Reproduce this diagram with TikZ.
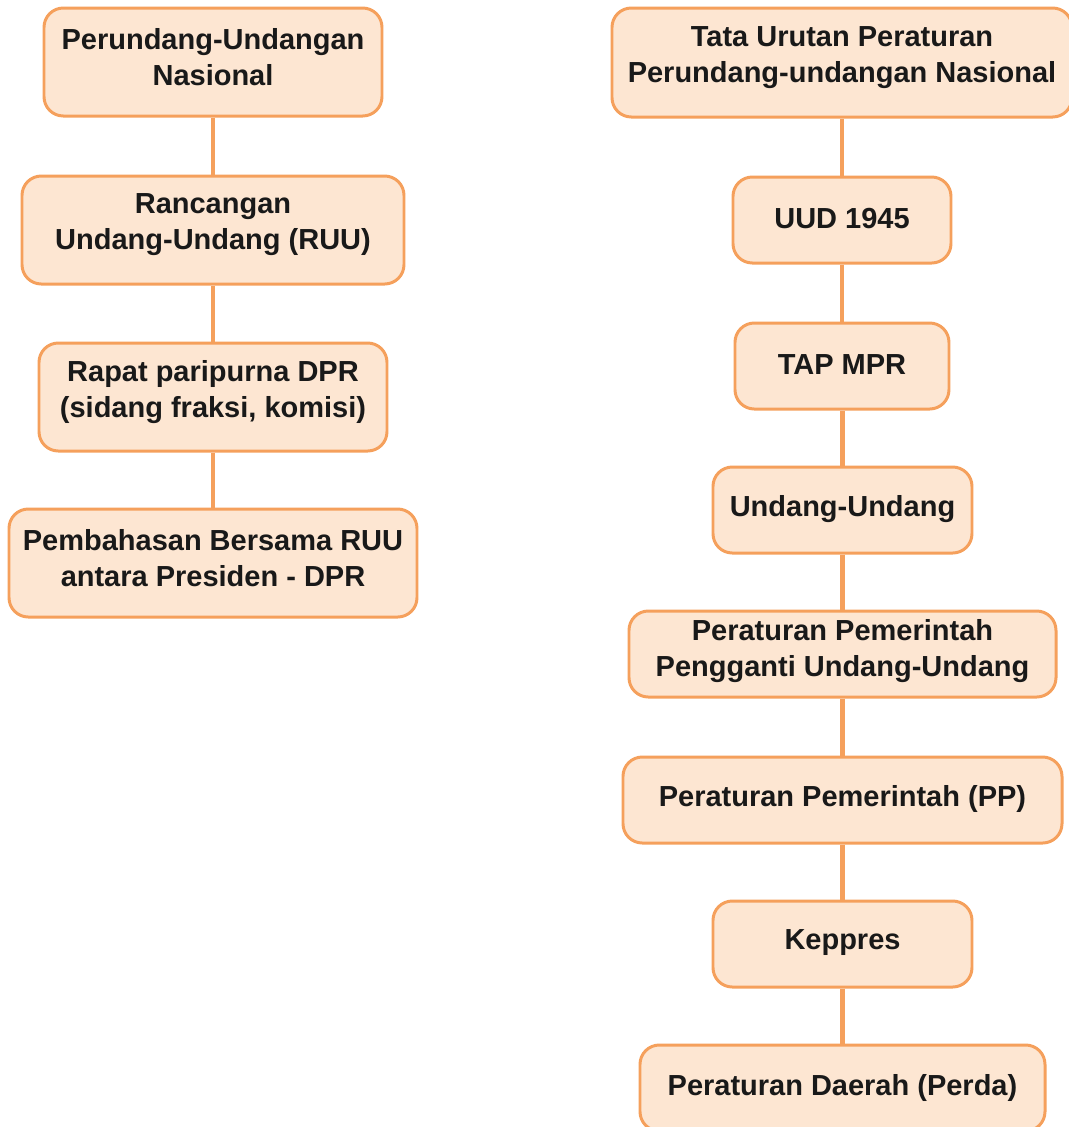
\documentclass[tikz,border=0pt]{standalone}
\usepackage{fontspec}
\setmainfont{Liberation Sans}
\definecolor{boxfill}{HTML}{FDE6D2}
\definecolor{boxline}{HTML}{F5A05C}
\begin{document}
\begin{tikzpicture}[x=0.02cm,y=-0.02cm,
  box/.style={draw=boxline,fill=boxfill,line width=1.7pt,rounded corners=11pt,inner sep=0pt},
  lbl/.style={align=center,inner sep=0pt,font=\fontsize{16.5}{20.5}\selectfont\bfseries,text=black!90},
  link/.style={draw=boxline,line width=2.7pt}]
\useasboundingbox (0,0) rectangle (1069,1127);
\newcommand{\bx}[7]{\node[box,minimum width={(#4-#2)*0.02cm},minimum height={(#5-#3)*0.02cm}] (#1) at ({(#2+#4)/2},{(#3+#5)/2}) {};
  \node[lbl] (#1-t) at ({(#2+#4)/2},{(#3+#5)/2-#7}) {#6};}
% connectors first (behind boxes)
\begin{scope}[on background layer/.style={}]
\end{scope}
% left column
\bx{l1}{44}{8}{382}{116}{Perundang-Undangan\\Nasional}{5}
\bx{l2}{22}{176}{404}{284}{Rancangan\\Undang-Undang (RUU)}{5}
\bx{l3}{39}{343}{387}{451}{Rapat paripurna DPR\\(sidang fraksi, komisi)}{5}
\bx{l4}{9}{509}{417}{617}{Pembahasan Bersama RUU\\antara Presiden - DPR}{5}
% right column
\bx{r1}{612}{8}{1072}{117}{Tata Urutan Peraturan\\Perundang-undangan Nasional}{5}
\bx{r2}{733}{177}{951}{263}{UUD 1945}{1}
\bx{r3}{735}{323}{949}{409}{TAP MPR}{1}
\bx{r4}{713}{467}{972}{553}{Undang-Undang}{1}
\bx{r5}{629}{611}{1056}{697}{Peraturan Pemerintah\\Pengganti Undang-Undang}{3}
\bx{r6}{623}{757}{1062}{843}{Peraturan Pemerintah (PP)}{1}
\bx{r7}{713}{901}{972}{987}{Keppres}{1}
\bx{r8}{640}{1045}{1045}{1131}{Peraturan Daerah (Perda)}{0}
\foreach \a/\b in {l1/l2,l2/l3,l3/l4,r1/r2,r2/r3,r3/r4,r4/r5,r5/r6,r6/r7,r7/r8}
  \draw[link] (\b.north |- \a.south) -- (\b.north);
\end{tikzpicture}
\end{document}
